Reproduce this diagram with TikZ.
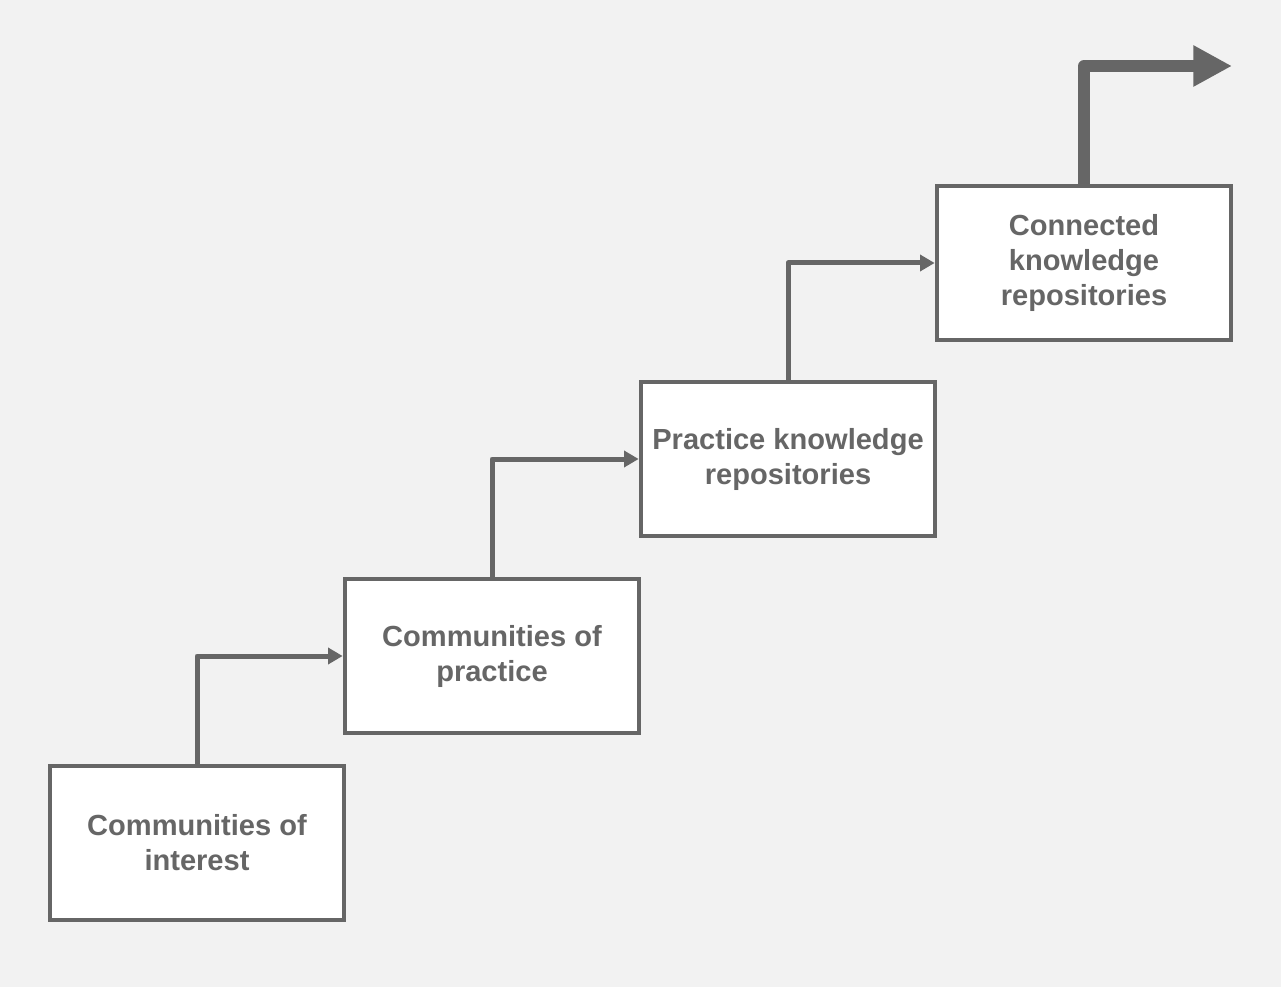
\documentclass[tikz,border=0pt]{standalone}
\usepackage{fontspec}
\setmainfont{Liberation Sans}
\usetikzlibrary{arrows.meta}
\definecolor{bgGray}{RGB}{242,242,242}
\definecolor{lineGray}{RGB}{102,102,102}
\tikzset{
  stage/.style={draw=lineGray, fill=white, line width=3pt, minimum width=221pt, minimum height=116pt,
    inner sep=0pt, align=center, text=lineGray, font=\fontsize{21.8}{26.25}\selectfont\bfseries},
  stepline/.style={draw=lineGray, line width=3.75pt, line join=round,
    -{Triangle[length=11pt,width=12pt]}},
  bigline/.style={draw=lineGray, line width=9pt, line join=round,
    -{Triangle[length=29pt,width=29pt]}}
}
\begin{document}
\begin{tikzpicture}[x=0.75pt,y=0.75pt,yscale=-1]
%background, sets the size of the picture
\path [fill=bgGray] (0,0) rectangle (1281,987);

% Stage boxes
\node [stage] (interest) at (197,843) {Communities of\\interest};
\node [stage] (practice) at (492,656) {Communities of\\practice};
\node [stage] (repos) at (788,459) {Practice knowledge\\repositories};
\node [stage] (connected) at (1084,263) {Connected\\knowledge\\repositories};
\coordinate (outward) at (1232,66);

% Steps between stages
\draw [stepline] (interest.north) |- (practice.west);
\draw [stepline] (practice.north) |- (repos.west);
\draw [stepline] (repos.north) |- (connected.west);
\draw [bigline] (connected.north) |- (outward);

\end{tikzpicture}
\end{document}
